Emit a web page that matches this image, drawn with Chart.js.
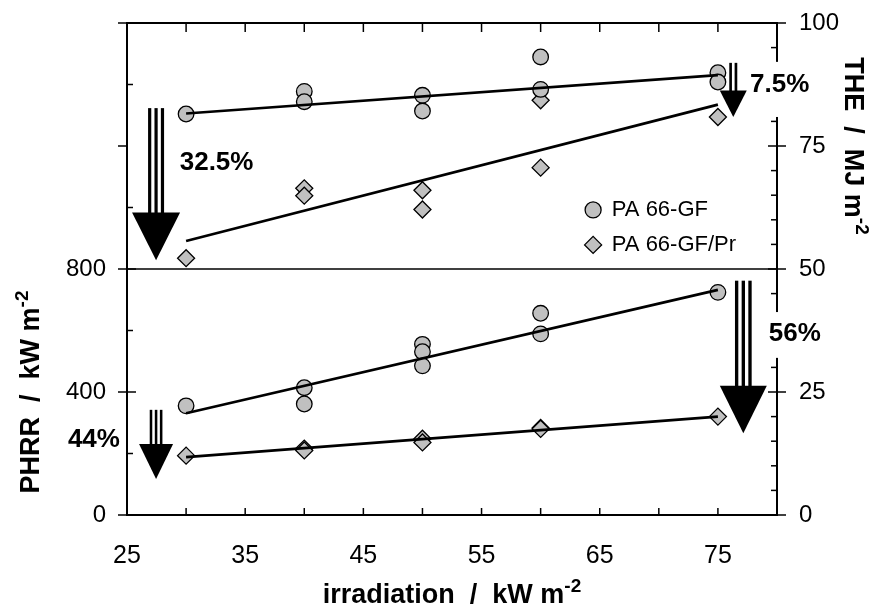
<!DOCTYPE html>
<html>
<head>
<meta charset="utf-8">
<script src="https://cdn.jsdelivr.net/npm/chart.js@4.4.0/dist/chart.umd.min.js"></script>
<style>
  html, body { margin: 0; padding: 0; background: #fff; }
  #wrap { width: 881px; height: 608px; }
</style>
</head>
<body>
<div id="wrap"><canvas id="heatChart" width="881" height="608"></canvas></div>
<script>
'use strict';

// series names (legend)
var seriesNames = ['PA 66-GF', 'PA 66-GF/Pr'];

// THE / MJ m-2 (upper panel, right axis)
var theGFx = [30, 40, 40, 50, 50, 60, 60, 75, 75];
var theGFy = [81.5, 86.1, 84.0, 85.3, 82.1, 93.1, 86.5, 89.9, 88.0];
var thePrx = [30, 40, 40, 50, 50, 60, 60, 75];
var thePry = [52.2, 66.4, 64.9, 66.0, 62.1, 84.3, 70.6, 80.9];

// PHRR / kW m-2 (lower panel, left axis)
var phrrGFx = [30, 40, 40, 50, 50, 50, 60, 60, 75];
var phrrGFy = [355, 414, 361, 555, 531, 485, 656, 589, 724];
var phrrPrx = [30, 40, 40, 50, 50, 60, 60, 75];
var phrrPry = [193, 216, 210, 248, 236, 283, 280, 320];

var fitX = [30, 75];
var theGFfit = [81.6, 89.4];
var thePrFit = [55.7, 83.4];
var phrrGFfit = [331, 732];
var phrrPrFit = [188, 320];

// tick labels
var xTickLabels = [25, 35, 45, 55, 65, 75];
var leftTickLabels = [0, 400, 800];
var rightTickLabels = [0, 25, 50, 75, 100];

// reduction notes: arrows and percent labels (in axis units)
var arrows = [
  { axis: 'yR', x: 27.46, top: 82.7, headTop: 61.5, tip: 51.8, shaftW: 16, headW: 48, bars: 3 },
  { axis: 'yR', x: 76.3, top: 91.9, headTop: 86.3, tip: 80.9, shaftW: 8, headW: 27, bars: 2 },
  { axis: 'yL', x: 77.15, top: 762, headTop: 420, tip: 266, shaftW: 16.7, headW: 47, bars: 3 },
  { axis: 'yL', x: 27.46, top: 342, headTop: 231, tip: 117, shaftW: 12.7, headW: 34, bars: 3 }
];
var notes = [
  { text: '32.5%', axis: 'yR', x: 29.46, y: 71.7 },
  { text: '7.5%', axis: 'yR', x: 77.72, y: 87.7, gap: [92.1, 80.9] },
  { text: '56%', axis: 'yL', x: 79.3, y: 594, gap: [660, 511] },
  { text: '44%', axis: 'yL', x: 20.0, y: 249, gap: [319, 199] }
];

var FONT = '"Liberation Sans", Arial, sans-serif';
var GREY = '#c0c0c0';

function pts(xs, ys) {
  return xs.map(function(x, i) { return { x: x, y: ys[i] }; });
}

function line(ctx, x1, y1, x2, y2) {
  ctx.beginPath();
  ctx.moveTo(x1, y1);
  ctx.lineTo(x2, y2);
  ctx.stroke();
}

// title with a "-2" superscript, centred on (cx, base) and rotated
function drawTitle(ctx, main, sup, cx, base, rot) {
  ctx.save();
  ctx.translate(cx, base);
  ctx.rotate(rot);
  ctx.fillStyle = '#000';
  ctx.textBaseline = 'alphabetic';
  ctx.textAlign = 'left';
  ctx.font = 'bold 27px ' + FONT;
  var w1 = ctx.measureText(main).width;
  ctx.font = 'bold 19px ' + FONT;
  var w2 = ctx.measureText(sup).width;
  var x0 = -(w1 + w2) / 2;
  ctx.font = 'bold 27px ' + FONT;
  ctx.fillText(main, x0, 0);
  ctx.font = 'bold 19px ' + FONT;
  ctx.fillText(sup, x0 + w1, -11);
  ctx.restore();
}

function marker(ctx, style, x, y) {
  ctx.beginPath();
  if (style === 'circle') {
    ctx.arc(x, y, 8, 0, Math.PI * 2);
  } else {
    var r = 8.5;
    ctx.moveTo(x - r, y);
    ctx.lineTo(x, y - r);
    ctx.lineTo(x + r, y);
    ctx.lineTo(x, y + r);
    ctx.closePath();
  }
  ctx.fillStyle = GREY;
  ctx.fill();
  ctx.lineWidth = 1.3;
  ctx.strokeStyle = '#000';
  ctx.stroke();
}

// fixed box sizes, and no extra room for the end labels
function fixBox(size) {
  return function(s) {
    if (s.isHorizontal()) s.height = size; else s.width = size;
    s.paddingTop = 0;
    s.paddingBottom = 0;
    s.paddingLeft = 0;
    s.paddingRight = 0;
  };
}

var frameAndNotes = {
  id: 'frameAndNotes',
  beforeDatasetsDraw: function(chart) {
    var ctx = chart.ctx, a = chart.chartArea;
    var xs = chart.scales.x, yl = chart.scales.yL, yr = chart.scales.yR;
    ctx.save();
    ctx.strokeStyle = '#000';

    // divider between the two panels
    ctx.lineWidth = 1.4;
    var yMid = yr.getPixelForValue(50);
    line(ctx, a.left, yMid, a.right, yMid);

    ctx.lineWidth = 1.5;
    xs.ticks.forEach(function(t) {
      var px = xs.getPixelForValue(t.value);
      line(ctx, px, a.bottom, px, a.bottom - 7);
      line(ctx, px, a.top, px, a.top + 9);
    });
    yl.ticks.forEach(function(t) {
      var py = yl.getPixelForValue(t.value);
      if (t.value % 400 === 0) {
        line(ctx, a.left - 9, py, leftTickLabels.indexOf(t.value) >= 0 ? a.left + 9 : a.left, py);
      } else {
        line(ctx, a.left, py, a.left + 6, py);
      }
    });
    yr.ticks.forEach(function(t) {
      var py = yr.getPixelForValue(t.value);
      if (rightTickLabels.indexOf(t.value) >= 0) {
        line(ctx, a.right - 9, py, a.right + 9, py);
      } else {
        line(ctx, a.right - 6, py, a.right, py);
      }
    });

    ctx.lineWidth = 2;
    ctx.strokeRect(a.left, a.top, a.right - a.left, a.bottom - a.top);
    ctx.restore();
  },
  afterDatasetsDraw: function(chart) {
    var ctx = chart.ctx, a = chart.chartArea;
    var xs = chart.scales.x;
    ctx.save();

    // percent labels, white box breaks the axis where needed
    ctx.font = 'bold 26px ' + FONT;
    ctx.textBaseline = 'middle';
    ctx.textAlign = 'left';
    notes.forEach(function(n) {
      var sc = chart.scales[n.axis];
      var px = xs.getPixelForValue(n.x), py = sc.getPixelForValue(n.y);
      var w = ctx.measureText(n.text).width;
      if (n.gap) {
        var g1 = sc.getPixelForValue(n.gap[0]), g2 = sc.getPixelForValue(n.gap[1]);
        ctx.fillStyle = '#fff';
        ctx.fillRect(px - 5, g1, w + 10, g2 - g1);
      }
      ctx.fillStyle = '#000';
      ctx.fillText(n.text, px, py + 1);
    });

    // arrows with striped shafts
    ctx.fillStyle = '#000';
    arrows.forEach(function(ar) {
      var sc = chart.scales[ar.axis];
      var cx = xs.getPixelForValue(ar.x);
      var yTop = sc.getPixelForValue(ar.top);
      var yHead = sc.getPixelForValue(ar.headTop);
      var yTip = sc.getPixelForValue(ar.tip);
      var n = ar.bars * 2 - 1;
      var bw = ar.shaftW / n;
      for (var i = 0; i < ar.bars; i++) {
        ctx.fillRect(cx - ar.shaftW / 2 + i * 2 * bw, yTop, bw, yHead - yTop + 1);
      }
      ctx.beginPath();
      ctx.moveTo(cx - ar.headW / 2, yHead);
      ctx.lineTo(cx + ar.headW / 2, yHead);
      ctx.lineTo(cx, yTip);
      ctx.closePath();
      ctx.fill();
    });

    // legend inside the upper panel
    var yr = chart.scales.yR;
    var lx = xs.getPixelForValue(64.44);
    var ly = [yr.getPixelForValue(62.0), yr.getPixelForValue(54.9)];
    ['circle', 'rectRot'].forEach(function(st, i) {
      marker(ctx, st, lx, ly[i]);
      ctx.fillStyle = '#000';
      ctx.font = '22px ' + FONT;
      ctx.textBaseline = 'middle';
      ctx.textAlign = 'left';
      ctx.fillText(seriesNames[i], lx + 18.7, ly[i]);
    });

    // axis titles
    drawTitle(ctx, 'irradiation  /  kW m', '-2', (a.left + a.right) / 2, a.bottom + 88, 0);
    var yl = chart.scales.yL;
    drawTitle(ctx, 'PHRR  /  kW m', '-2', a.left - 88, (yl.getPixelForValue(0) + yl.getPixelForValue(800)) / 2, -Math.PI / 2);
    drawTitle(ctx, 'THE  /  MJ m', '-2', a.right + 68, (yr.getPixelForValue(50) + yr.getPixelForValue(100)) / 2, Math.PI / 2);

    ctx.restore();
  }
};

function pointSet(label, data, axis, style, radius) {
  return {
    type: 'scatter',
    label: label,
    data: data,
    yAxisID: axis,
    showLine: false,
    pointStyle: style,
    pointRadius: radius,
    pointBackgroundColor: GREY,
    pointBorderColor: '#000',
    pointBorderWidth: 1.3,
    order: 1
  };
}

function fitSet(ys, axis) {
  return {
    type: 'scatter',
    data: pts(fitX, ys),
    yAxisID: axis,
    showLine: true,
    borderColor: '#000',
    borderWidth: 2.7,
    pointRadius: 0,
    order: 0
  };
}

var tickFont = { family: FONT, size: 24 };

new Chart(document.getElementById('heatChart'), {
  type: 'scatter',
  data: {
    datasets: [
      fitSet(theGFfit, 'yR'),
      fitSet(thePrFit, 'yR'),
      fitSet(phrrGFfit, 'yL'),
      fitSet(phrrPrFit, 'yL'),
      pointSet(seriesNames[0], pts(theGFx, theGFy), 'yR', 'circle', 7.8),
      pointSet(seriesNames[1], pts(thePrx, thePry), 'yR', 'rectRot', 8.5),
      pointSet(seriesNames[0], pts(phrrGFx, phrrGFy), 'yL', 'circle', 7.8),
      pointSet(seriesNames[1], pts(phrrPrx, phrrPry), 'yL', 'rectRot', 8.5)
    ]
  },
  options: {
    responsive: false,
    animation: false,
    devicePixelRatio: 1,
    layout: { padding: { top: 23, left: 0, right: 0, bottom: 0 } },
    plugins: { legend: { display: false }, tooltip: { enabled: false } },
    scales: {
      x: {
        type: 'linear',
        position: 'bottom',
        min: 25, max: 80,
        grid: { display: false, drawTicks: false },
        border: { display: false },
        ticks: {
          stepSize: 5, autoSkip: false, maxRotation: 0, padding: 26,
          color: '#000', font: { family: FONT, size: 25 },
          callback: function(v) { return xTickLabels.indexOf(v) >= 0 ? String(v) : ''; }
        },
        afterFit: fixBox(93)
      },
      yL: {
        type: 'linear',
        position: 'left',
        min: 0, max: 1600,
        grid: { display: false, drawTicks: false },
        border: { display: false },
        ticks: {
          stepSize: 200, autoSkip: false, padding: 21,
          color: '#000', font: tickFont,
          callback: function(v) { return leftTickLabels.indexOf(v) >= 0 ? String(v) : ''; }
        },
        afterFit: fixBox(127)
      },
      yR: {
        type: 'linear',
        position: 'right',
        min: 0, max: 100,
        grid: { display: false, drawTicks: false },
        border: { display: false },
        ticks: {
          stepSize: 5, autoSkip: false, padding: 22,
          color: '#000', font: tickFont,
          callback: function(v) { return rightTickLabels.indexOf(v) >= 0 ? String(v) : ''; }
        },
        afterFit: fixBox(104)
      }
    }
  },
  plugins: [frameAndNotes]
});
</script>
</body>
</html>
